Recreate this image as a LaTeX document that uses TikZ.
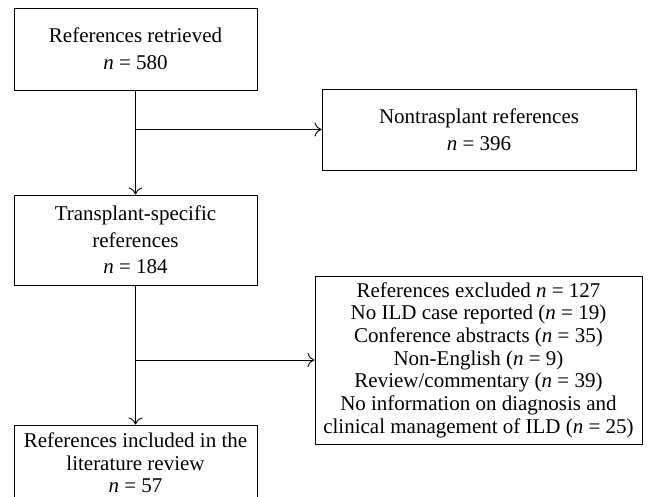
\documentclass[tikz,border=0pt]{standalone}
\usepackage{fontspec}
\setmainfont{Liberation Serif}
\usetikzlibrary{arrows.meta}
\begin{document}
\begin{tikzpicture}[x=1pt,y=-1pt,
  box/.style={draw, line width=0.9pt, inner sep=0pt, align=center},
  wide/.style={font=\fontsize{21}{26.7}\selectfont},
  tight/.style={font=\fontsize{21}{22.7}\selectfont},
  conn/.style={line width=0.9pt, -{To[length=7pt,width=14pt]}}]
\useasboundingbox (0,0) rectangle (648,497);
\node[box, wide, minimum width=243pt, minimum height=82pt] (b1) at (135.5,49) {References retrieved\\\textit{n} = 580};
\node[box, wide, minimum width=314pt, minimum height=81pt] (b2) at (479,129.5) {Nontrasplant references\\\textit{n} = 396};
\node[box, wide, minimum width=243pt, minimum height=90pt] (b3) at (135.5,240) {Transplant-specific\\references\\\textit{n} = 184};
\node[box, tight, minimum width=327pt, minimum height=168pt] (b5) at (478.5,360) {References excluded \textit{n} = 127\\No ILD case reported (\textit{n} = 19)\\Conference abstracts (\textit{n} = 35)\\Non-English (\textit{n} = 9)\\Review/commentary (\textit{n} = 39)\\No information on diagnosis and\\clinical management of ILD (\textit{n} = 25)};
\node[box, tight, minimum width=243pt, minimum height=76pt] (b4) at (135.5,463) {References included in the\\literature review\\\textit{n} = 57};
\coordinate (j1) at (b1.south |- b2.west);
\coordinate (j2) at (b3.south |- b5.west);
\draw[conn] (b1.south) -- (b3.north);
\draw[conn] (j1) -- (b2.west);
\draw[conn] (b3.south) -- (b4.north);
\draw[conn] (j2) -- (b5.west);
\end{tikzpicture}
\end{document}
